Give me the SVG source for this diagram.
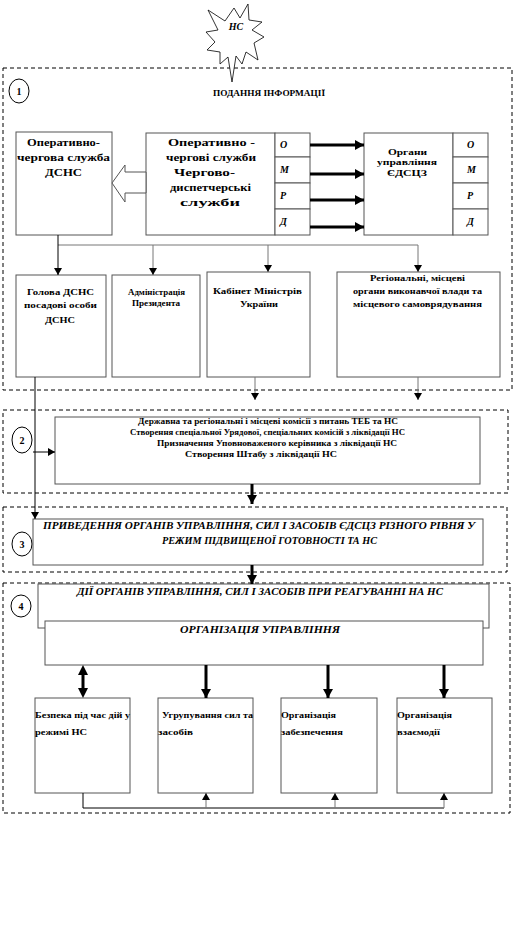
<svg xmlns="http://www.w3.org/2000/svg" width="529" height="933" viewBox="0 0 529 933">
<style>
.sec{fill:none;stroke:#000;stroke-width:1;stroke-dasharray:4 3}
.box{fill:#fff;stroke:#555;stroke-width:1}
.ln{fill:none;stroke:#000;stroke-width:1}
.gl{fill:none;stroke:#777;stroke-width:1}
.th{fill:none;stroke:#000;stroke-width:3}
.t{font-family:"Liberation Serif","Times New Roman",serif;font-weight:bold;fill:#000}
.bi{font-family:"Liberation Serif","Times New Roman",serif;font-weight:bold;font-style:italic;fill:#000}
.c{text-anchor:middle}
</style>
<defs>
<marker id="ah" markerUnits="userSpaceOnUse" markerWidth="7" markerHeight="8" refX="7" refY="4" orient="auto"><path d="M0,0 L7,4 L0,8 z" fill="#000"/></marker>
<marker id="ahb" markerUnits="userSpaceOnUse" markerWidth="9" markerHeight="10" refX="9" refY="5" orient="auto"><path d="M0,0 L9,5 L0,10 z" fill="#000"/></marker>
</defs>

<!-- sections -->
<g id="section1"><rect class="sec" x="3" y="68" width="509" height="322"/>
<ellipse cx="19" cy="91" rx="10" ry="12" class="ln"/><text class="t c" x="19" y="95" font-size="10">1</text>
<text class="t" x="213" y="96" font-size="8" textLength="112" lengthAdjust="spacingAndGlyphs">ПОДАННЯ ІНФОРМАЦІЇ</text></g>
<g id="section2"><rect class="sec" x="3" y="410" width="505" height="83"/>
<ellipse cx="22" cy="440" rx="10" ry="13" class="ln"/><text class="t c" x="22" y="444" font-size="10">2</text></g>
<g id="section3"><rect class="sec" x="3" y="507" width="504" height="65"/>
<ellipse cx="22" cy="544" rx="10" ry="12" class="ln"/><text class="t c" x="22" y="548" font-size="10">3</text></g>
<g id="section4"><rect class="sec" x="3" y="583" width="507" height="230"/>
<ellipse cx="21" cy="606" rx="10" ry="11" class="ln"/><text class="t c" x="21" y="610" font-size="10">4</text></g>

<!-- star -->
<g id="star">
<polygon points="208,10 225,21 234,8 240,18 248,4 249,20 262,22 252,30 264,37 254,43 258,60 246,52 242,64 236,56 232,82 228,57 220,64 220,52 207,50 215,42 206,32 218,30" fill="#fff" stroke="#000" stroke-width="0.8"/>
<text class="bi c" x="236" y="30" font-size="10">НС</text>
</g>

<!-- section 1 nodes -->
<g id="ocs-dsns"><rect class="box" x="16" y="132" width="96" height="103"/>
<text class="t" font-size="10" x="27" y="146" textLength="73" lengthAdjust="spacingAndGlyphs">Оперативно-</text>
<text class="t" font-size="10" x="17" y="161" textLength="93" lengthAdjust="spacingAndGlyphs">чергова  служба</text>
<text class="t" font-size="10" x="45" y="176" textLength="37" lengthAdjust="spacingAndGlyphs">ДСНС</text></g>

<g id="ocs"><rect class="box" x="146" y="133" width="129" height="102"/>
<rect class="box" x="275" y="133" width="35" height="24"/><rect class="box" x="275" y="157" width="35" height="26"/>
<rect class="box" x="275" y="183" width="35" height="26"/><rect class="box" x="275" y="209" width="35" height="26"/>
<text class="t" font-size="10" x="168" y="146" textLength="87" lengthAdjust="spacingAndGlyphs">Оперативно  -</text>
<text class="t" font-size="10" x="166" y="161" textLength="90" lengthAdjust="spacingAndGlyphs">чергові  служби</text>
<text class="t" font-size="10" x="174" y="176" textLength="61" lengthAdjust="spacingAndGlyphs">Чергово-</text>
<text class="t" font-size="10" x="170" y="191" textLength="81" lengthAdjust="spacingAndGlyphs">диспетчерські</text>
<text class="t" font-size="10" x="180" y="206" textLength="60" lengthAdjust="spacingAndGlyphs">служби</text>
<text class="bi" font-size="10" x="280" y="148">О</text><text class="bi" font-size="10" x="280" y="173">М</text>
<text class="bi" font-size="10" x="280" y="199">Р</text><text class="bi" font-size="10" x="280" y="225">Д</text></g>

<g id="organy-edsciz"><rect class="box" x="364" y="133" width="89" height="102"/>
<rect class="box" x="453" y="133" width="35" height="24"/><rect class="box" x="453" y="157" width="35" height="26"/>
<rect class="box" x="453" y="183" width="35" height="26"/><rect class="box" x="453" y="209" width="35" height="26"/>
<text class="t" font-size="9" x="388" y="155" textLength="39" lengthAdjust="spacingAndGlyphs">Органи</text>
<text class="t" font-size="9" x="377" y="165" textLength="60" lengthAdjust="spacingAndGlyphs">управління</text>
<text class="t" font-size="9" x="387" y="176" textLength="40" lengthAdjust="spacingAndGlyphs">ЄДСЦЗ</text>
<text class="bi" font-size="10" x="467" y="148">О</text><text class="bi" font-size="10" x="467" y="173">М</text>
<text class="bi" font-size="10" x="467" y="199">Р</text><text class="bi" font-size="10" x="467" y="225">Д</text></g>

<g id="holova"><rect class="box" x="16" y="275" width="90" height="102"/>
<text class="t" font-size="9" x="27" y="295" textLength="67" lengthAdjust="spacingAndGlyphs">Голова ДСНС</text>
<text class="t" font-size="9" x="24" y="308" textLength="73" lengthAdjust="spacingAndGlyphs">посадові особи</text>
<text class="t" font-size="9" x="45" y="323" textLength="30" lengthAdjust="spacingAndGlyphs">ДСНС</text></g>
<g id="admin"><rect class="box" x="112" y="275" width="88" height="102"/>
<text class="t" font-size="8" x="128" y="295" textLength="57" lengthAdjust="spacingAndGlyphs">Адміністрація</text>
<text class="t" font-size="8" x="132" y="306" textLength="48" lengthAdjust="spacingAndGlyphs">Президента</text></g>
<g id="kmu"><rect class="box" x="207" y="272" width="103" height="105"/>
<text class="t" font-size="9" x="213" y="294" textLength="89" lengthAdjust="spacingAndGlyphs">Кабінет Міністрів</text>
<text class="t" font-size="9" x="240" y="307" textLength="38" lengthAdjust="spacingAndGlyphs">України</text></g>
<g id="regional"><rect class="box" x="337" y="272" width="163" height="105"/>
<text class="t" font-size="9" x="370" y="281" textLength="95" lengthAdjust="spacingAndGlyphs">Регіональні,  місцеві</text>
<text class="t" font-size="8.5" x="353" y="294" textLength="129" lengthAdjust="spacingAndGlyphs">органи виконавчої влади та</text>
<text class="t" font-size="8.5" x="353" y="307" textLength="129" lengthAdjust="spacingAndGlyphs">місцевого самоврядування</text></g>

<!-- section 2 node -->
<g id="komisii"><rect class="box" x="55" y="417" width="425" height="67"/>
<text class="t" font-size="8" x="138" y="424" textLength="260" lengthAdjust="spacingAndGlyphs">Державна та  регіональні і місцеві комісії з питань ТЕБ та НС</text>
<text class="t" font-size="8" x="130" y="435" textLength="275" lengthAdjust="spacingAndGlyphs">Створення спеціальної Урядової, спеціальних комісій з ліквідації НС</text>
<text class="t" font-size="8" x="157" y="446" textLength="240" lengthAdjust="spacingAndGlyphs">Призначення Уповноваженого керівника з ліквідації НС</text>
<text class="t" font-size="8" x="185" y="457" textLength="152" lengthAdjust="spacingAndGlyphs">Створення Штабу з ліквідації НС</text></g>

<!-- section 3 node -->
<g id="pryvedennia"><rect class="box" x="33" y="519" width="450" height="46"/>
<text class="bi" font-size="10" x="43" y="529" textLength="432" lengthAdjust="spacingAndGlyphs">ПРИВЕДЕННЯ ОРГАНІВ УПРАВЛІННЯ, СИЛ І ЗАСОБІВ ЄДСЦЗ РІЗНОГО РІВНЯ У</text>
<text class="bi" font-size="10" x="162" y="544" textLength="215" lengthAdjust="spacingAndGlyphs">РЕЖИМ ПІДВИЩЕНОЇ ГОТОВНОСТІ  ТА НС</text></g>

<!-- section 4 nodes -->
<g id="dii"><rect class="box" x="38" y="584" width="451" height="44"/>
<text class="bi" font-size="9.5" x="77" y="595" textLength="366" lengthAdjust="spacingAndGlyphs">ДІЇ ОРГАНІВ УПРАВЛІННЯ, СИЛ І ЗАСОБІВ ПРИ РЕАГУВАННІ НА  НС</text></g>
<g id="org-upr"><rect class="box" x="45" y="621" width="438" height="44"/>
<text class="bi" font-size="9.5" x="180" y="633" textLength="160" lengthAdjust="spacingAndGlyphs">ОРГАНІЗАЦІЯ УПРАВЛІННЯ</text></g>

<g id="bezpeka"><rect class="box" x="35" y="698" width="95" height="95"/>
<text class="t" font-size="9" x="35" y="718" textLength="95" lengthAdjust="spacingAndGlyphs">Безпека під час дій у</text>
<text class="t" font-size="9" x="35" y="735" textLength="52" lengthAdjust="spacingAndGlyphs">режимі НС</text></g>
<g id="uhrup"><rect class="box" x="158" y="698" width="95" height="95"/>
<text class="t" font-size="9" x="162" y="718" textLength="91" lengthAdjust="spacingAndGlyphs">Угрупування сил та</text>
<text class="t" font-size="9" x="158" y="735" textLength="35" lengthAdjust="spacingAndGlyphs">засобів</text></g>
<g id="zabezp"><rect class="box" x="281" y="698" width="96" height="95"/>
<text class="t" font-size="9" x="281" y="718" textLength="55" lengthAdjust="spacingAndGlyphs">Організація</text>
<text class="t" font-size="9" x="281" y="735" textLength="62" lengthAdjust="spacingAndGlyphs">забезпечення</text></g>
<g id="vzaiem"><rect class="box" x="397" y="698" width="95" height="95"/>
<text class="t" font-size="9" x="397" y="718" textLength="55" lengthAdjust="spacingAndGlyphs">Організація</text>
<text class="t" font-size="9" x="397" y="735" textLength="43" lengthAdjust="spacingAndGlyphs">взаємодії</text></g>

<!-- connectors -->
<g id="connectors">
<polygon points="146,172 125,172 125,165 112,183 125,202 125,193 146,193" fill="#fff" stroke="#555" stroke-width="1"/>
<line class="th" x1="310" y1="145" x2="364" y2="145" marker-end="url(#ahb)"/>
<line class="th" x1="310" y1="174" x2="364" y2="174" marker-end="url(#ahb)"/>
<line class="th" x1="310" y1="200" x2="364" y2="200" marker-end="url(#ahb)"/>
<line class="th" x1="310" y1="227" x2="364" y2="227" marker-end="url(#ahb)"/>
<polyline class="gl" points="58,245 418,245"/>
<line class="ln" x1="58" y1="235" x2="58" y2="275" marker-end="url(#ah)"/>
<line class="gl" x1="153" y1="245" x2="153" y2="275" marker-end="url(#ah)"/>
<line class="gl" x1="268" y1="245" x2="268" y2="272" marker-end="url(#ah)"/>
<line class="gl" x1="418" y1="245" x2="418" y2="272" marker-end="url(#ah)"/>
<line class="gl" x1="255" y1="377" x2="255" y2="400" marker-end="url(#ah)"/>
<line class="gl" x1="418" y1="377" x2="418" y2="400" marker-end="url(#ah)"/>
<line class="ln" x1="35" y1="377" x2="35" y2="519" marker-end="url(#ah)"/>
<line class="ln" x1="33" y1="452" x2="55" y2="452" marker-end="url(#ah)"/>
<line class="th" x1="252" y1="484" x2="252" y2="504" marker-end="url(#ahb)"/>
<line class="th" x1="252" y1="565" x2="252" y2="584" marker-end="url(#ahb)"/>
<line class="th" x1="83" y1="672" x2="83" y2="691"/>
<polygon points="83,665 78,675 88,675" fill="#000"/>
<polygon points="83,698 78,688 88,688" fill="#000"/>
<line class="th" x1="206" y1="665" x2="206" y2="698" marker-end="url(#ahb)"/>
<line class="th" x1="328" y1="665" x2="328" y2="698" marker-end="url(#ahb)"/>
<line class="th" x1="444" y1="665" x2="444" y2="698" marker-end="url(#ahb)"/>
<polyline class="ln" points="83,793 83,808 444,808"/>
<line class="gl" x1="206" y1="808" x2="206" y2="793" marker-end="url(#ah)"/>
<line class="gl" x1="335" y1="808" x2="335" y2="793" marker-end="url(#ah)"/>
<line class="gl" x1="444" y1="808" x2="444" y2="793" marker-end="url(#ah)"/>
</g>
</svg>
